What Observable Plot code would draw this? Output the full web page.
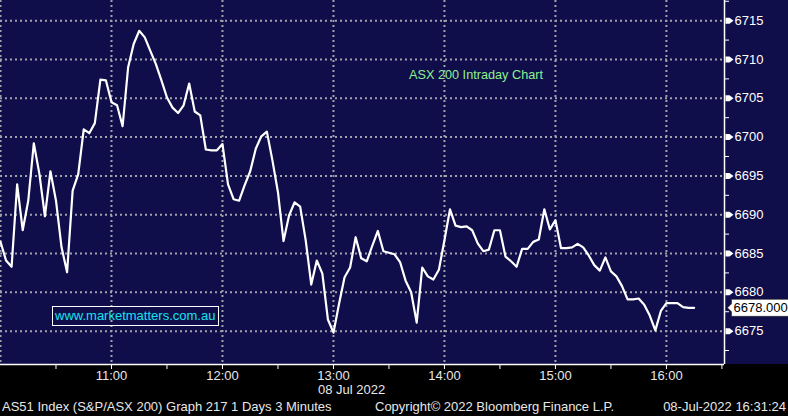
<!DOCTYPE html>
<html>
<head>
<meta charset="utf-8">
<script src="https://cdn.jsdelivr.net/npm/d3@7"></script>
<script src="https://cdn.jsdelivr.net/npm/@observablehq/plot@0.6"></script>
<style>
  html, body { margin: 0; padding: 0; background: #000; }
  #wrap { position: relative; width: 788px; height: 416px; background: #000; overflow: hidden;
          font-family: "Liberation Sans", Arial, sans-serif; }
  #chart svg { display: block; }
  #title { position: absolute; left: 409px; top: 68px; color: #8ef08e; font-size: 12.7px; line-height: 15px; white-space: nowrap; }
  #url { position: absolute; left: 52px; top: 306px; width: 163px; height: 18px; border: 1px solid #fff;
         color: #16e2f0; font-size: 13px; line-height: 18px; padding-left: 2px; white-space: nowrap; }
  #footer { position: absolute; left: 0; top: 398px; width: 788px; height: 18px; color: #e8e8e8;
            font-size: 13px; line-height: 18px; white-space: nowrap; }
  #footer span { position: absolute; top: 0; }
</style>
</head>
<body>
<div id="wrap">
  <div id="chart"></div>
  <div id="title"></div>
  <div id="url"></div>
  <div id="footer"><span id="f1" style="left:2px"></span><span id="f2" style="left:375px"></span><span id="f3" style="right:2px"></span></div>
</div>
<script>
// ---- data ----
const chartTitle = "ASX 200 Intraday Chart";
const watermark = "www.marketmatters.com.au";
const footerLeft = "AS51 Index (S&P/ASX 200) Graph 217 1 Days 3 Minutes";
const footerMid = "Copyright\u00A9 2022 Bloomberg Finance L.P.";
const footerRight = "08-Jul-2022 16:31:24";
const dateLabel = "08 Jul 2022";
const dateLabelTime = "13:00";
const sessionDate = [2022, 6, 8];
const startTime = "10:00";
const intervalMinutes = 3;
const lastLabel = "6678.000";

const closeValues = [
  6686.5, 6684.1, 6683.3, 6693.9, 6688.0, 6691.8, 6699.2, 6695.3, 6689.8, 6695.6,
  6691.8, 6685.8, 6682.6, 6693.1, 6695.2, 6701.0, 6700.5, 6701.8, 6707.4, 6707.3,
  6704.5, 6704.1, 6701.4, 6709.0, 6712.0, 6713.7, 6712.85, 6711.1, 6709.4, 6707.3,
  6705.1, 6703.8, 6703.1, 6704.1, 6706.9, 6703.3, 6702.8, 6698.4, 6698.3, 6698.3,
  6699.1, 6693.9, 6692.0, 6691.8, 6693.8, 6695.6, 6698.5, 6700.1, 6700.7, 6697.0,
  6692.9, 6686.6, 6689.9, 6691.6, 6691.05, 6686.7, 6681.0, 6684.1, 6682.4, 6676.5,
  6674.8, 6678.5, 6681.95, 6683.2, 6687.1, 6684.4, 6684.0, 6686.0, 6687.9, 6685.3,
  6685.1, 6684.9, 6683.9, 6681.5, 6680.0, 6676.1, 6683.2, 6682.05, 6681.65, 6682.9,
  6686.7, 6690.7, 6688.6, 6688.4, 6688.5, 6688.0, 6686.3, 6685.3, 6685.5, 6688.0,
  6688.0, 6684.6, 6684.0, 6683.3, 6685.6, 6685.6, 6686.5, 6686.8, 6690.7, 6688.1,
  6689.3, 6685.7, 6685.7, 6685.8, 6686.25, 6685.8, 6684.75, 6683.5, 6682.8, 6684.5,
  6682.7, 6682.05, 6680.8, 6679.1, 6679.1, 6679.2, 6678.4, 6677.0, 6675.1, 6677.6,
  6678.6, 6678.6, 6678.6, 6678.1, 6678.0, 6678.0
];

const yMajorTicks = [6675, 6680, 6685, 6690, 6695, 6700, 6705, 6710, 6715];
const yMinorTicks = [6672.5, 6677.5, 6682.5, 6687.5, 6692.5, 6697.5, 6702.5, 6707.5, 6712.5, 6717.5];
const xHourTicks = ["10:00", "11:00", "12:00", "13:00", "14:00", "15:00", "16:00"];
const xLabelTicks = ["11:00", "12:00", "13:00", "14:00", "15:00", "16:00"];
const xHalfHourTicks = ["10:30", "11:00", "11:30", "12:00", "12:30", "13:00", "13:30", "14:00", "14:30", "15:00", "15:30", "16:00", "16:30"];
const xDomainTimes = ["10:00", "16:31:24"];
const yDomain = [6670.7, 6717.6];

// ---- helpers ----
function toDate(s) {
  const [h, m, sec] = s.split(":").map(Number);
  return new Date(Date.UTC(sessionDate[0], sessionDate[1], sessionDate[2], h, m, sec || 0));
}
const start = toDate(startTime);
const series = closeValues.map((v, i) => ({
  time: new Date(start.getTime() + i * intervalMinutes * 60000),
  value: v
}));
const xDomain = xDomainTimes.map(toDate);
const lastValue = series[series.length - 1].value;

const navy = "#0f0d4a";
const gridColor = "#a2a2aa";
const arrowSymbol = {
  draw(ctx) {
    ctx.moveTo(0, -3); ctx.lineTo(4, -3); ctx.lineTo(8, 0); ctx.lineTo(4, 3); ctx.lineTo(0, 3); ctx.closePath();
  }
};
const hTickSymbol = { draw(ctx) { ctx.moveTo(0, 0); ctx.lineTo(4, 0); } };
const vTickSymbol = { draw(ctx) { ctx.moveTo(0, 0); ctx.lineTo(0, 4); } };
// last-value flag: box with a left-pointing arrow
const flagSymbol = {
  draw(ctx) {
    ctx.moveTo(0, 0); ctx.lineTo(4, -4); ctx.lineTo(4, -8.5); ctx.lineTo(70, -8.5);
    ctx.lineTo(70, 8.5); ctx.lineTo(4, 8.5); ctx.lineTo(4, 4); ctx.closePath();
  }
};

const chart = Plot.plot({
  width: 788,
  height: 398,
  marginLeft: 0,
  marginRight: 64,
  marginTop: 0,
  marginBottom: 34,
  style: {
    background: `linear-gradient(to bottom, ${navy} 364px, #000 364px)`,
    color: "white",
    fontFamily: "Liberation Sans, Arial, sans-serif",
    overflow: "visible"
  },
  x: {type: "utc", domain: xDomain, label: null},
  y: {domain: yDomain, label: null},
  marks: [
    Plot.gridY(yMajorTicks, {stroke: gridColor, strokeOpacity: 1, strokeWidth: 2, strokeDasharray: "2,3"}),
    Plot.gridX(xHourTicks.map(toDate), {stroke: gridColor, strokeOpacity: 1, strokeWidth: 2, strokeDasharray: "2,3"}),
    Plot.lineY(series, {x: "time", y: "value", stroke: "white", strokeWidth: 2.2}),
    Plot.ruleY([yDomain[0]], {stroke: "white", strokeWidth: 1.5}),
    Plot.ruleX([xDomain[1]], {stroke: "white", strokeWidth: 1.5}),
    Plot.dot(yMinorTicks, {y: d => d, frameAnchor: "right", dx: 0.5, symbol: hTickSymbol, r: 3, stroke: "white", strokeWidth: 1, fill: "none"}),
    Plot.axisY(yMajorTicks, {anchor: "right", tickSize: 0, tickPadding: 10, tickFormat: d => String(d), color: "white", fontSize: 13}),
    Plot.dot(yMajorTicks, {y: d => d, frameAnchor: "right", dx: 1, symbol: arrowSymbol, r: 3, fill: "white", stroke: "none"}),
    Plot.dot(xHalfHourTicks.map(toDate), {x: d => d, frameAnchor: "bottom", dy: 0.5, symbol: vTickSymbol, r: 3, stroke: "white", strokeWidth: 1, fill: "none"}),
    Plot.axisX(xLabelTicks.map(toDate), {anchor: "bottom", tickSize: 0, tickPadding: 6, tickFormat: d3.utcFormat("%H:%M"), color: "#e8e8e8", fontSize: 13}),
    Plot.text([toDate(dateLabelTime)], {x: d => d, text: () => dateLabel, frameAnchor: "bottom", lineAnchor: "top",
      dy: 20, dx: -15.5, textAnchor: "start", fill: "#e8e8e8", fontSize: 13}),
    Plot.dot([lastValue], {y: d => d, frameAnchor: "right", dx: 3, symbol: flagSymbol, r: 3, fill: "white", stroke: "#222", strokeWidth: 0.6}),
    Plot.text([lastValue], {y: d => d, text: () => lastLabel, frameAnchor: "right", dx: 9, textAnchor: "start",
      fill: "black", fontSize: 13})
  ]
});

document.getElementById("chart").append(chart);
document.getElementById("title").textContent = chartTitle;
document.getElementById("url").textContent = watermark;
document.getElementById("f1").textContent = footerLeft;
document.getElementById("f2").textContent = footerMid;
document.getElementById("f3").textContent = footerRight;
</script>
</body>
</html>
